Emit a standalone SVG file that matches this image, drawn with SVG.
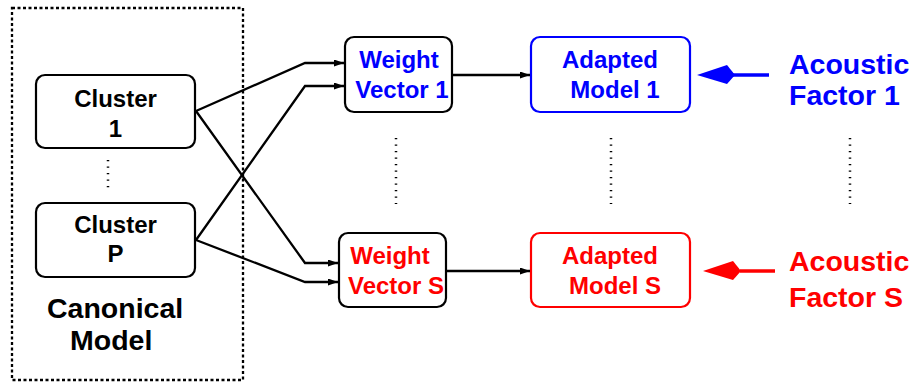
<svg xmlns="http://www.w3.org/2000/svg" width="914" height="385" viewBox="0 0 914 385">
  <style>
    text { font-family: "Liberation Sans", Arial, Helvetica, sans-serif; font-weight: bold; }
    .t24 { font-size: 24px; }
    .t28 { font-size: 28.5px; }
    .box { fill: #fff; stroke-width: 2.2; }
    .k { stroke: #000; }
    .b { stroke: #00f; }
    .r { stroke: #f00; }
    .wire { fill: none; stroke: #000; stroke-width: 2.3; }
    .dots { stroke: #000; stroke-width: 2.5; stroke-dasharray: 1.2 5.3; fill: none; }
  </style>
  <defs>
    <marker id="tri" viewBox="0 0 10 7" refX="10" refY="3.5" markerWidth="10" markerHeight="7" markerUnits="userSpaceOnUse" orient="auto">
      <path d="M0,0 L10,3.5 L0,7 Z" fill="#000"/>
    </marker>
  </defs>

  <rect width="914" height="385" fill="#fff"/>

  <!-- canonical model container -->
  <g id="canonical-model">
    <rect x="12" y="8" width="231" height="372" fill="none" stroke="#000" stroke-width="2.3" stroke-dasharray="3 2.5"/>
    <text class="t28" x="47" y="318">Canonical</text>
    <text class="t28" x="70" y="350">Model</text>
    <path class="dots" d="M108,160 V192"/>
  </g>

  <g id="cluster-1">
    <rect class="box k" x="36" y="75" width="159" height="73" rx="9"/>
    <text class="t24" x="115.5" y="107" text-anchor="middle">Cluster</text>
    <text class="t24" x="115.5" y="137" text-anchor="middle">1</text>
  </g>

  <g id="cluster-p">
    <rect class="box k" x="36" y="203" width="159" height="74" rx="9"/>
    <text class="t24" x="115.5" y="233" text-anchor="middle">Cluster</text>
    <text class="t24" x="115.5" y="262" text-anchor="middle">P</text>
  </g>

  <g id="weight-vector-1">
    <rect class="box k" x="345" y="37" width="107" height="75" rx="9"/>
    <text class="t24" x="399" y="68" text-anchor="middle" fill="#00f">Weight</text>
    <text class="t24" x="402" y="98" text-anchor="middle" fill="#00f">Vector 1</text>
  </g>

  <g id="weight-vector-s">
    <rect class="box k" x="339" y="233" width="107" height="74" rx="9"/>
    <text class="t24" x="390" y="264" text-anchor="middle" fill="#f00">Weight</text>
    <text class="t24" x="396" y="294" text-anchor="middle" fill="#f00">Vector S</text>
  </g>

  <g id="adapted-model-1">
    <rect class="box b" x="531" y="37" width="159" height="75" rx="9"/>
    <text class="t24" x="610" y="68" text-anchor="middle" fill="#00f">Adapted</text>
    <text class="t24" x="615" y="98" text-anchor="middle" fill="#00f">Model 1</text>
  </g>

  <g id="adapted-model-s">
    <rect class="box r" x="531" y="233" width="159" height="74" rx="9"/>
    <text class="t24" x="610" y="264" text-anchor="middle" fill="#f00">Adapted</text>
    <text class="t24" x="615" y="294" text-anchor="middle" fill="#f00">Model S</text>
  </g>

  <g id="acoustic-factor-1">
    <text class="t28" x="789" y="74" fill="#00f">Acoustic</text>
    <text class="t28" x="789" y="105" fill="#00f">Factor 1</text>
  </g>

  <g id="acoustic-factor-s">
    <text class="t28" x="789" y="271" fill="#f00">Acoustic</text>
    <text class="t28" x="789" y="307" fill="#f00">Factor S</text>
  </g>

  <!-- ellipsis between the two rows -->
  <g id="row-ellipsis">
    <path class="dots" d="M396,138 V204"/>
    <path class="dots" d="M611,138 V204"/>
    <path class="dots" d="M850,138 V204"/>
  </g>

  <g id="connectors">
    <!-- clusters to weight vectors -->
    <path class="wire" d="M196,111 L305,63 H344" marker-end="url(#tri)"/>
    <path class="wire" d="M196,240 L305,86 H344" marker-end="url(#tri)"/>
    <path class="wire" d="M196,111 L305,263 H338" marker-end="url(#tri)"/>
    <path class="wire" d="M196,240 L305,282 H338" marker-end="url(#tri)"/>
    <!-- weight vectors to adapted models -->
    <path class="wire" d="M452,75 H530" marker-end="url(#tri)"/>
    <path class="wire" d="M446,271 H530" marker-end="url(#tri)"/>
    <!-- acoustic factor inputs -->
    <path d="M733,75 H769" stroke="#00f" stroke-width="3.5" fill="none"/>
    <path d="M697,75 L727,65 L735,75 L727,84 Z" fill="#00f"/>
    <path d="M740,271 H775" stroke="#f00" stroke-width="3.5" fill="none"/>
    <path d="M703,271 L733,261 L741,271 L733,280 Z" fill="#f00"/>
  </g>
</svg>
